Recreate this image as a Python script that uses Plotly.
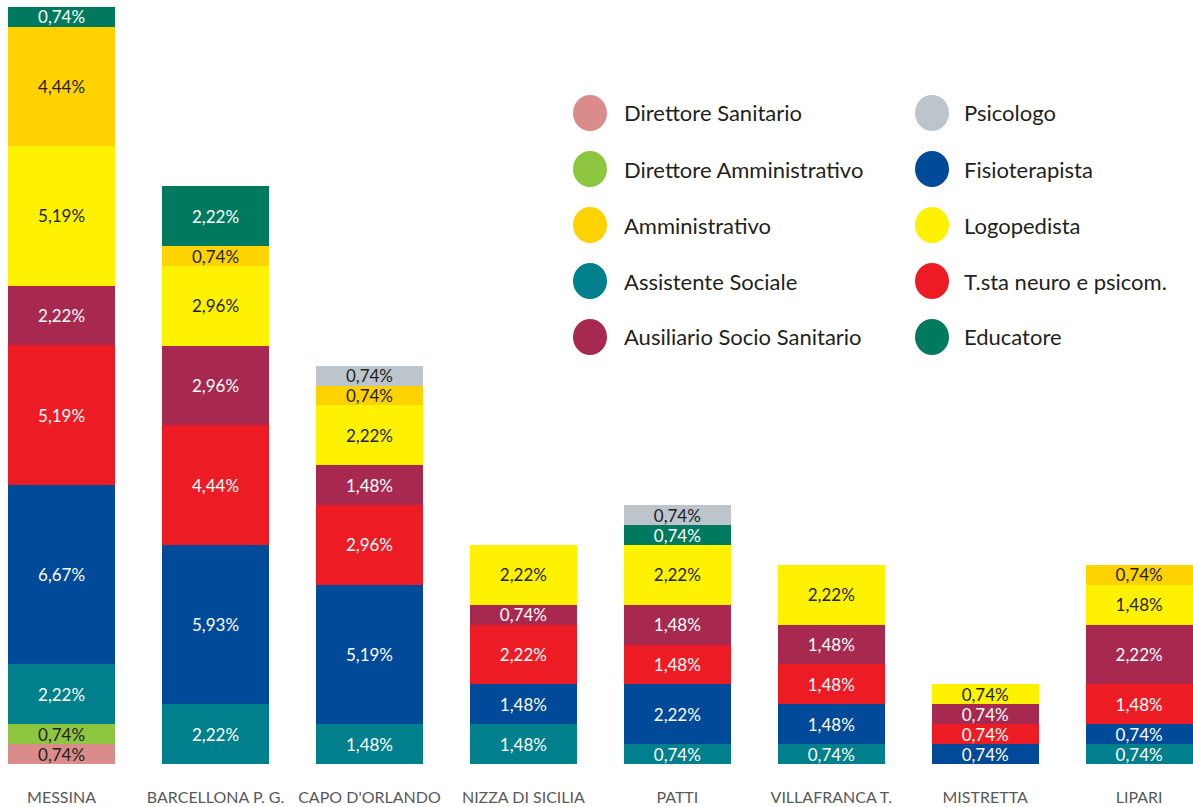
import plotly.graph_objects as go

categories = ["MESSINA", "BARCELLONA P. G.", "CAPO D'ORLANDO", "NIZZA DI SICILIA",
              "PATTI", "VILLAFRANCA T.", "MISTRETTA", "LIPARI"]

# stacking order bottom -> top
direttore_sanitario      = [0.74, None, None, None, None, None, None, None]
direttore_amministrativo = [0.74, None, None, None, None, None, None, None]
assistente_sociale       = [2.22, 2.22, 1.48, 1.48, 0.74, 0.74, None, 0.74]
fisioterapista           = [6.67, 5.93, 5.19, 1.48, 2.22, 1.48, 0.74, 0.74]
tsta_neuro               = [5.19, 4.44, 2.96, 2.22, 1.48, 1.48, 0.74, 1.48]
ausiliario               = [2.22, 2.96, 1.48, 0.74, 1.48, 1.48, 0.74, 2.22]
logopedista              = [5.19, 2.96, 2.22, 2.22, 2.22, 2.22, 0.74, 1.48]
amministrativo           = [4.44, 0.74, 0.74, None, None, None, None, 0.74]
educatore                = [0.74, 2.22, None, None, 0.74, None, None, None]
psicologo                = [None, None, 0.74, None, 0.74, None, None, None]

series = [
    ("Direttore Sanitario", direttore_sanitario, "#D98C8A", "#231F20"),
    ("Direttore Amministrativo", direttore_amministrativo, "#8DC63F", "#231F20"),
    ("Assistente Sociale", assistente_sociale, "#007F8D", "white"),
    ("Fisioterapista", fisioterapista, "#004A99", "white"),
    ("T.sta neuro e psicom.", tsta_neuro, "#ED1C24", "white"),
    ("Ausiliario Socio Sanitario", ausiliario, "#A8294F", "white"),
    ("Logopedista", logopedista, "#FFF200", "#231F20"),
    ("Amministrativo", amministrativo, "#FFD200", "#231F20"),
    ("Educatore", educatore, "#007A5F", "white"),
    ("Psicologo", psicologo, "#BCC5CB", "#231F20"),
]

legend_left = ["Direttore Sanitario", "Direttore Amministrativo", "Amministrativo",
               "Assistente Sociale", "Ausiliario Socio Sanitario"]
legend_right = ["Psicologo", "Fisioterapista", "Logopedista",
                "T.sta neuro e psicom.", "Educatore"]

FONT = "Lato"

fig = go.Figure()
for name, vals, color, tcolor in series:
    labels = [("" if v is None else (f"{v:.2f}".replace(".", ",") + "%")) for v in vals]
    fig.add_trace(go.Bar(
        x=categories, y=vals, name=name, marker=dict(color=color, line=dict(width=0)),
        text=labels, textposition="inside", insidetextanchor="middle", textangle=0,
        textfont=dict(family=FONT, size=17, color=tcolor), constraintext="none",
        showlegend=False, hoverinfo="skip",
    ))

W, H = 1193, 807
mb = 43
plot_h = H - mb
colors = {n: c for n, _, c, _ in series}
shapes, annotations = [], []
rows_y = [113, 169, 225, 281, 337]
for col, (names, cx, tx) in enumerate([(legend_left, 590, 622), (legend_right, 932, 962)]):
    for i, n in enumerate(names):
        py = rows_y[i]
        yp = (plot_h - py) / plot_h
        shapes.append(dict(type="circle", xref="paper", yref="paper", xsizemode="pixel",
                           ysizemode="pixel", xanchor=cx / W, yanchor=yp,
                           x0=-17, x1=17, y0=-18, y1=18,
                           fillcolor=colors[n], line=dict(width=0)))
        annotations.append(dict(xref="paper", yref="paper", x=tx / W, y=yp, text=n,
                                showarrow=False, xanchor="left", yanchor="middle",
                                font=dict(family=FONT, size=22, color="#231F20")))

fig.update_layout(
    barmode="stack", bargap=0.305, width=W, height=H,
    margin=dict(l=0, r=0, t=0, b=mb, autoexpand=False),
    plot_bgcolor="white", paper_bgcolor="white",
    xaxis=dict(range=[-0.4, 7.35], showgrid=False, showline=False, automargin=False,
               ticks="outside", ticklen=19, tickcolor="rgba(0,0,0,0)",
               tickfont=dict(family=FONT, size=16, color="#58595B")),
    yaxis=dict(range=[0, 28.4], visible=False, showgrid=False, automargin=False),
    shapes=shapes, annotations=annotations,
    uniformtext=dict(mode=False),
)
fig.write_html("out.html", config={"displayModeBar": False},
               post_script="document.body.style.margin='0';")
